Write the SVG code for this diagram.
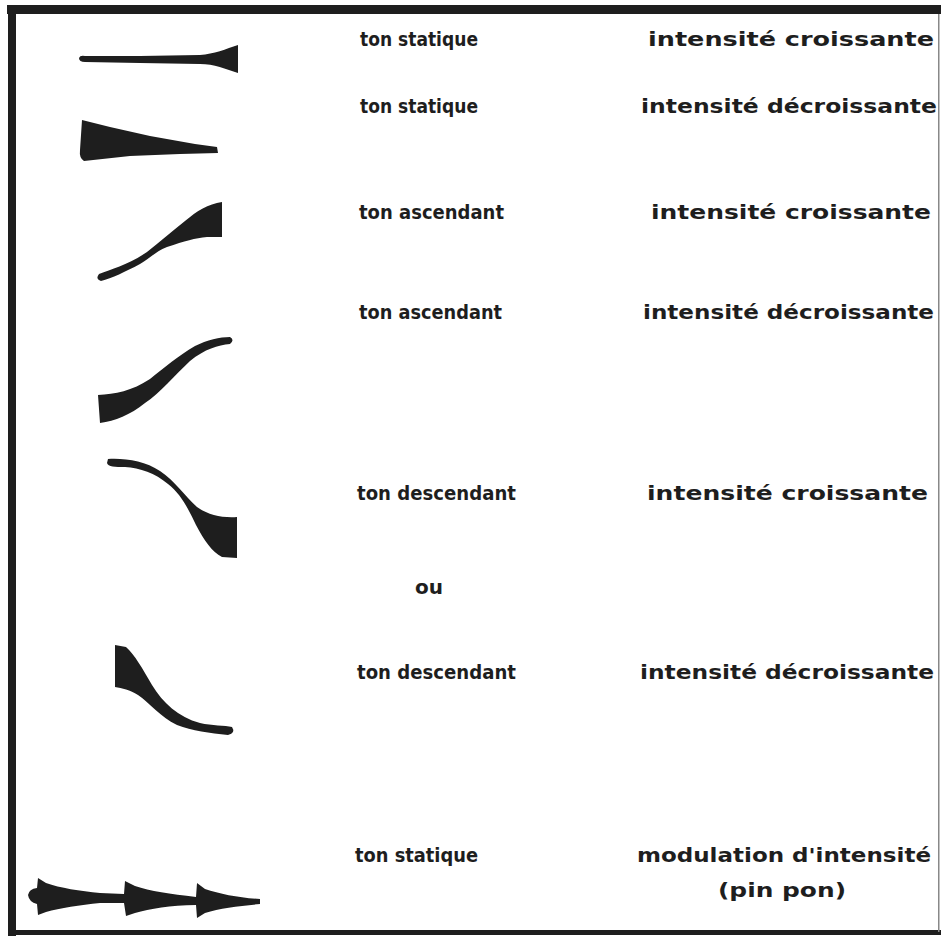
<svg xmlns="http://www.w3.org/2000/svg" width="941" height="936" viewBox="0 0 941 936">
<style>
.t{font-family:"DejaVu Sans","Liberation Sans",sans-serif;font-weight:bold;font-size:20px;fill:#1e1e1e}
.s{fill:#1e1e1e;stroke:none}
</style>
<rect x="0" y="0" width="941" height="936" fill="#fff"/>
<g id="frame">
<rect x="7" y="5" width="934" height="9" class="s"/>
<rect x="8" y="5" width="8" height="931" class="s"/>
<rect x="12" y="930" width="929" height="5" class="s"/>
<rect x="938" y="14" width="1.5" height="918" fill="#888"/>
</g>
<g id="row1">
<path class="s" d="M79,58 Q80,55 85,56 L140,56 L200,55 C214,54 226,49 238,45 L238,73 C226,69 214,64 200,64 L140,63 L85,62 Q79,62 79,58 Z"/>
<text class="t" x="360" y="46" textLength="118" lengthAdjust="spacingAndGlyphs">ton statique</text>
<text class="t" x="648" y="46" textLength="286" lengthAdjust="spacingAndGlyphs">intensité croissante</text>
</g>
<g id="row2">
<path class="s" d="M82,120 L110,127 L150,136 L195,144 L217,147 L218,153 L180,154 L130,156 L84,161 Q79,158 80,150 Z"/>
<text class="t" x="360" y="113" textLength="118" lengthAdjust="spacingAndGlyphs">ton statique</text>
<text class="t" x="641" y="113" textLength="296" lengthAdjust="spacingAndGlyphs">intensité décroissante</text>
</g>
<g id="row3">
<path class="s" d="M99,274 C112,269 128,265 147,252 C160,242 172,231 185,221 C197,211 208,204 222,202 L222,237 L207,237 C195,238 185,241 167,247 C155,252 150,258 140,264 C125,272 112,278 101,281 Q95,279 99,274 Z"/>
<text class="t" x="359" y="219" textLength="145" lengthAdjust="spacingAndGlyphs">ton ascendant</text>
<text class="t" x="651" y="219" textLength="280" lengthAdjust="spacingAndGlyphs">intensité croissante</text>
</g>
<g id="row4">
<path class="s" d="M98,395 C115,394 132,391 150,379 C165,367 178,356 195,346 C207,340 220,337 230,337 Q235,340 230,344 C218,345 205,349 190,361 C175,375 160,393 145,403 C130,415 115,421 100,423 Z"/>
<text class="t" x="359" y="319" textLength="143" lengthAdjust="spacingAndGlyphs">ton ascendant</text>
<text class="t" x="643" y="319" textLength="291" lengthAdjust="spacingAndGlyphs">intensité décroissante</text>
</g>
<g id="row5">
<path class="s" d="M108,459 C125,458 145,461 160,471 C175,481 185,496 197,507 C208,515 222,518 237,517 L237,558 L222,557 C212,552 204,540 196,525 C188,508 180,493 168,484 C155,473 140,468 125,467 C115,467 108,467 107,463 Z"/>
<text class="t" x="357" y="500" textLength="159" lengthAdjust="spacingAndGlyphs">ton descendant</text>
<text class="t" x="647" y="500" textLength="281" lengthAdjust="spacingAndGlyphs">intensité croissante</text>
</g>
<g id="ou">
<text class="t" x="415" y="594" textLength="28" lengthAdjust="spacingAndGlyphs">ou</text>
</g>
<g id="row6">
<path class="s" d="M115,645 L126,647 C135,655 142,668 152,685 C163,703 178,717 200,723 C212,726 225,725 232,727 Q236,733 228,735 C210,733 192,731 177,725 C160,717 150,703 138,695 C130,690 122,688 115,687 Z"/>
<text class="t" x="357" y="679" textLength="159" lengthAdjust="spacingAndGlyphs">ton descendant</text>
<text class="t" x="640" y="679" textLength="294" lengthAdjust="spacingAndGlyphs">intensité décroissante</text>
</g>
<g id="row7">
<path class="s" d="M28,895 Q29,889 37,888 L38,878 L46,883 C60,888 80,891 100,893 L124,894 L125,881 L135,886 C150,891 170,894 196,897 L197,883 L205,889 C220,894 240,898 260,899 L260,904 C240,906 220,908 205,913 L197,918 L196,905 C170,905 150,909 135,913 L126,916 L124,903 L100,903 C80,905 60,908 46,912 L38,915 L37,904 Q29,902 28,895 Z"/>
<text class="t" x="355" y="862" textLength="123" lengthAdjust="spacingAndGlyphs">ton statique</text>
<text class="t" x="637" y="862" textLength="294" lengthAdjust="spacingAndGlyphs">modulation d'intensité</text>
<text class="t" x="718" y="897" textLength="128" lengthAdjust="spacingAndGlyphs">(pin pon)</text>
</g>
</svg>
